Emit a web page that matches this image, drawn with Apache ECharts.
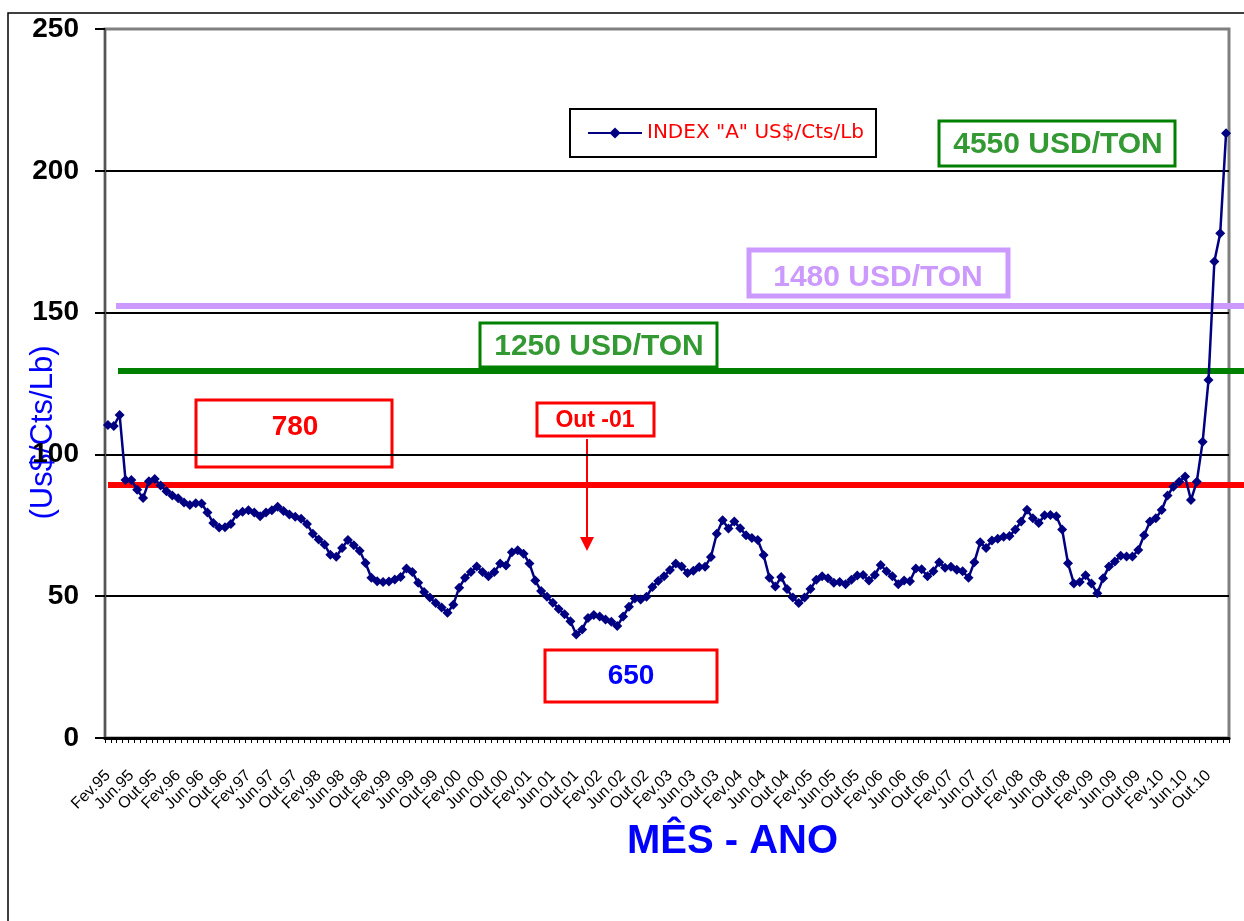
<!DOCTYPE html>
<html>
<head>
<meta charset="utf-8">
<title>INDEX A</title>
<script src="https://cdn.jsdelivr.net/npm/echarts@6/dist/echarts.min.js"></script>
<style>
html, body { margin: 0; padding: 0; background: #fff; }
#main { width: 1244px; height: 921px; }
</style>
</head>
<body>
<div id="main"></div>
<script>
// meses (Fev.95 .. Jan.11)
var mesesNome = ['Jan', 'Fev', 'Mar', 'Abr', 'Mai', 'Jun', 'Jul', 'Ago', 'Set', 'Out', 'Nov', 'Dez'];

// INDEX "A" US$/Cts/Lb, mensal a partir de Fev.95
var indexA = [
	110.4, 110, 113.9, 91, 91, 87.5, 84.6, 90.5, 91.3, 89, 87, 85.5,
	84.5, 83, 82.2, 82.8, 82.7, 79.5, 75.8, 74.2, 74.3, 75.5, 79, 79.8,
	80.3, 79.5, 78.2, 79.5, 80.3, 81.5, 80, 78.8, 78, 77.3, 75.5, 72,
	70, 68.2, 64.6, 63.9, 67, 69.8, 68, 66, 61.7, 56.5, 55.3, 55,
	55.2, 55.9, 56.8, 59.8, 58.5, 54.7, 51.5, 49.5, 47.6, 46, 44.2, 47,
	53, 56.5, 58.5, 60.5, 58.5, 57, 58.5, 61.5, 60.8, 65.5, 66.2, 65,
	61.5, 55.5, 51.8, 49.8, 47.7, 45.5, 43.6, 41.2, 36.5, 38.3, 42.3, 43.4,
	42.8, 41.8, 41, 39.5, 42.8, 46.3, 49.2, 48.8, 49.8, 53.2, 55.4, 57,
	59.2, 61.5, 60.5, 58.2, 59, 60.3, 60.4, 63.8, 72, 76.8, 73.9, 76.3,
	74, 71.5, 70.5, 69.8, 64.5, 56.5, 53.4, 56.8, 52.5, 49.5, 47.6, 49.5,
	52.5, 55.8, 57, 56.3, 54.7, 55, 54.2, 55.8, 57.3, 57.5, 55.5, 57.5,
	61, 58.8, 57, 54.2, 55.5, 55.3, 59.8, 59.5, 57, 58.8, 62, 60,
	60.4, 59.3, 58.8, 56.5, 62, 69, 67, 69.6, 70.3, 71, 71.2, 73.5,
	76.3, 80.5, 77.5, 75.8, 78.5, 78.6, 78.2, 73.5, 61.6, 54.5, 55, 57.4,
	54.5, 51, 56.3, 60.5, 62.2, 64.3, 64, 64, 66.3, 71.5, 76.3, 77.5,
	80.4, 85.5, 88.6, 90.4, 92.2, 83.9, 90.4, 104.5, 126.2, 168, 178, 213.2
];

// niveis de referencia (US$/Cts/Lb)
var nivel780 = 89.2;
var nivel1250 = 129.4;
var nivel1480 = 152.3;

var meses = [];
for (var i = 0; i < indexA.length; i++) {
	var m = (1 + i) % 12;
	var a = (95 + Math.floor((1 + i) / 12)) % 100;
	meses.push(mesesNome[m] + '.' + (a < 10 ? '0' + a : a));
}

var fonte = 'Arial, "Liberation Sans", sans-serif';

var myChart = echarts.init(document.getElementById('main'));

function caixa(x, y, w, h, cor, lw, fill, txt, corTxt, tam, tx, ty) {
	return {
		type: 'group',
		children: [{
			type: 'rect',
			shape: { x: x, y: y, width: w, height: h },
			style: { fill: fill, stroke: cor, lineWidth: lw }
		}, {
			type: 'text',
			x: tx, y: ty,
			style: {
				text: txt, fill: corTxt, font: 'bold ' + tam + 'px ' + fonte,
				align: 'center', verticalAlign: 'middle'
			}
		}]
	};
}

var option = {
	animation: false,
	backgroundColor: '#fff',
	title: {
		text: 'MÊS - ANO',
		left: 627,
		top: 822,
		padding: 0,
		textStyle: { color: '#0000ff', fontSize: 40, fontWeight: 'bold', fontFamily: fonte }
	},
	legend: {
		left: 570,
		top: 109,
		padding: [14, 12, 14, 17],
		borderColor: '#000',
		borderWidth: 2,
		backgroundColor: '#fff',
		itemWidth: 54,
		itemHeight: 14,
		textStyle: { color: '#ff0000', fontSize: 20, fontFamily: '"DejaVu Sans", Verdana, sans-serif' },
		data: ['INDEX "A" US$/Cts/Lb']
	},
	grid: {
		left: 105,
		right: 15,
		top: 29,
		bottom: 183,
		outerBoundsMode: 'none',
		containLabel: false,
		show: true,
		borderColor: '#808080',
		borderWidth: 3
	},
	xAxis: {
		type: 'category',
		data: meses,
		boundaryGap: true,
		axisLine: { lineStyle: { color: '#000', width: 3 } },
		axisTick: { show: true, interval: 0, length: 5, lineStyle: { color: '#000', width: 1 } },
		axisLabel: {
			interval: 3,
			rotate: 45,
			margin: 35,
			color: '#000',
			fontSize: 16,
			fontFamily: fonte
		},
		splitLine: { show: false }
	},
	yAxis: {
		type: 'value',
		min: 0,
		max: 250,
		interval: 50,
		name: '(Us$/Cts/Lb)',
		nameLocation: 'middle',
		nameRotate: 90,
		nameGap: 46,
		nameMoveOverlap: false,
		nameTextStyle: { color: '#0000ff', fontSize: 31, fontFamily: fonte, padding: [0, 98, 0, 0] },
		axisLine: { show: true, lineStyle: { color: '#555', width: 2 } },
		axisTick: { show: true, length: 10, lineStyle: { color: '#000', width: 2 } },
		axisLabel: {
			margin: 26,
			color: '#000',
			fontSize: 28,
			fontWeight: 'bold',
			fontFamily: fonte
		},
		splitLine: { show: true, showMaxLine: false, lineStyle: { color: '#000', width: 2 } }
	},
	series: [{
		name: 'INDEX "A" US$/Cts/Lb',
		type: 'line',
		z: 3,
		data: indexA,
		symbol: 'diamond',
		symbolSize: 10,
		showAllSymbol: true,
		lineStyle: { color: '#000080', width: 2.5 },
		itemStyle: { color: '#000080' },
		markLine: {
			z: 1,
			silent: true,
			symbol: ['none', 'none'],
			label: { show: false },
			data: [
				[{ yAxis: nivel780, x: 108, lineStyle: { color: '#ff0000', width: 6, type: 'solid' } }, { yAxis: nivel780, x: 1244 }],
				[{ yAxis: nivel1250, x: 118, lineStyle: { color: '#008000', width: 6, type: 'solid' } }, { yAxis: nivel1250, x: 1244 }],
				[{ yAxis: nivel1480, x: 116, lineStyle: { color: '#cc99ff', width: 6, type: 'solid' } }, { yAxis: nivel1480, x: 1244 }]
			]
		}
	}],
	graphic: [
		{
			type: 'rect', z: -1,
			shape: { x: 8, y: 13, width: 1400, height: 1000 },
			style: { fill: 'none', stroke: '#000', lineWidth: 1.5 }
		},
		caixa(196, 400, 196, 67, '#ff0000', 3, 'none', '780', '#ff0000', 28, 295, 427),
		caixa(537, 403, 117, 33, '#ff0000', 3, '#fff', 'Out -01', '#ff0000', 23, 595, 421),
		caixa(545, 650, 172, 52, '#ff0000', 3, 'none', '650', '#0000ff', 28, 631, 676),
		caixa(480, 323, 237, 44, '#008000', 3, '#fff', '1250 USD/TON', '#339933', 30, 599, 347),
		caixa(749, 250, 259, 46, '#cc99ff', 5, '#fff', '1480 USD/TON', '#cc99ff', 30, 878, 278),
		caixa(939, 121, 236, 45, '#008000', 3, '#fff', '4550 USD/TON', '#339933', 30, 1058, 145),
		{
			type: 'line',
			shape: { x1: 587, y1: 439, x2: 587, y2: 540 },
			style: { stroke: '#ff0000', lineWidth: 2 }
		},
		{
			type: 'polygon',
			shape: { points: [[580, 537], [594, 537], [587, 551]] },
			style: { fill: '#ff0000' }
		}
	]
};

myChart.setOption(option);
</script>
</body>
</html>
